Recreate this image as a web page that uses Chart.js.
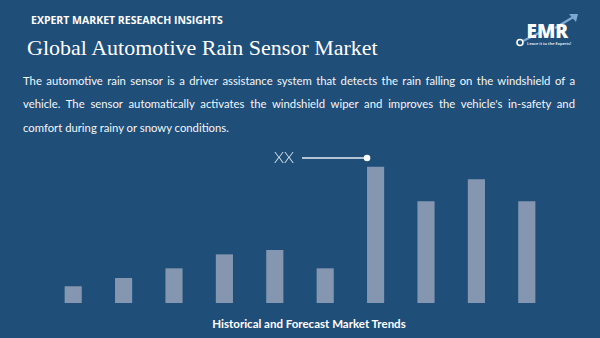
<!DOCTYPE html>
<html>
<head>
<meta charset="utf-8">
<script src="https://cdn.jsdelivr.net/npm/chart.js@4.4.1/dist/chart.umd.min.js"></script>
<style>
  html, body { margin: 0; padding: 0; }
  body { width: 600px; height: 338px; background: #1f4e79; position: relative; overflow: hidden; color: #fff; }
  .kicker { position: absolute; left: 31px; top: 13px; font: 700 10.5px "Open Sans", sans-serif; }
  .title { position: absolute; left: 27px; top: 35px; font: 400 22px "Liberation Serif", serif; }
  .desc { position: absolute; left: 23px; top: 74px; width: 552px; font: 400 11.3px Lato, sans-serif; color: #f4f6f9; }
  .desc div { height: 23.4px; text-align: justify; text-align-last: justify; }
  .desc div.last { text-align-last: left; }
  .foot { position: absolute; left: 0; width: 618px; top: 317px; text-align: center; font: 700 11.5px Lato, sans-serif; }
  #wrap { position: absolute; left: 0; top: 140px; width: 600px; height: 170px; }
  .logo { position: absolute; left: 505px; top: 6px; width: 80px; height: 44px; }
</style>
</head>
<body>
<div class="kicker">EXPERT MARKET RESEARCH INSIGHTS</div>
<div class="title">Global Automotive Rain Sensor Market</div>
<div class="desc">
  <div>The automotive rain sensor is a driver assistance system that detects the rain falling on the windshield of a</div>
  <div>vehicle. The sensor automatically activates the windshield wiper and improves the vehicle's in-safety and</div>
  <div class="last">comfort during rainy or snowy conditions.</div>
</div>
<svg class="logo" viewBox="0 0 80 44">
  <path d="M18 35 L34 27 M50 22 L70 10" stroke="#7fa7d6" stroke-width="2.2" fill="none"/>
  <path d="M64 8 L73 8 L71 16 Z" fill="#7fa7d6"/>
  <circle cx="15" cy="36.5" r="3" stroke="#ffffff" stroke-width="1.6" fill="none"/>
  <text x="21.5" y="32" font-family="Open Sans, sans-serif" font-weight="800" font-size="19" fill="#ffffff">EMR</text>
  <text x="22" y="38.5" font-family="Open Sans, sans-serif" font-weight="600" font-size="4" fill="#ffffff">Leave it to the Experts!</text>
</svg>
<div id="wrap"><canvas id="c"></canvas></div>
<div class="foot">Historical and Forecast Market Trends</div>
<script>
// Market size by year (arbitrary units), historical then forecast
const categories = ['2018', '2019', '2020', '2021', '2022', '2023', '2024', '2025', '2026', '2027'];
const marketValues = [1.64, 2.45, 3.4, 4.77, 5.2, 3.4, 13.36, 9.97, 12.13, 9.97];
const calloutLabel = 'XX';
const calloutIndex = 6;

// Callout: label, leader line and a dot just above the highlighted bar
const calloutPlugin = {
  id: 'callout',
  afterDatasetsDraw(chart) {
    const bar = chart.getDatasetMeta(0).data[calloutIndex];
    if (!bar) return;
    const ctx = chart.ctx;
    const dotX = bar.x - bar.width / 2;
    const dotY = bar.y - 8.7;
    ctx.save();
    ctx.strokeStyle = '#e6ecf4';
    ctx.lineWidth = 1.4;
    ctx.beginPath();
    ctx.moveTo(dotX - 65, dotY);
    ctx.lineTo(dotX, dotY);
    ctx.stroke();
    ctx.fillStyle = '#ffffff';
    ctx.beginPath();
    ctx.arc(dotX, dotY, 3.3, 0, Math.PI * 2);
    ctx.fill();
    ctx.font = '300 16px Lato, sans-serif';
    ctx.fillStyle = '#e6ecf4';
    ctx.textAlign = 'right';
    ctx.textBaseline = 'middle';
    ctx.fillText(calloutLabel, dotX - 73, dotY);
    ctx.restore();
  }
};

new Chart(document.getElementById('c'), {
  type: 'bar',
  data: {
    labels: categories,
    datasets: [{
      data: marketValues,
      backgroundColor: '#8597b0',
      borderWidth: 0,
      barPercentage: 0.34,
      categoryPercentage: 1.0
    }]
  },
  options: {
    responsive: true,
    maintainAspectRatio: false,
    animation: false,
    layout: { padding: { left: 48, right: 48, top: 10, bottom: 7 } },
    plugins: { legend: { display: false }, tooltip: { enabled: false } },
    scales: {
      x: { display: false, grid: { display: false } },
      y: { display: false, min: 0, max: 15, grid: { display: false } }
    }
  },
  plugins: [calloutPlugin]
});
</script>
</body>
</html>
